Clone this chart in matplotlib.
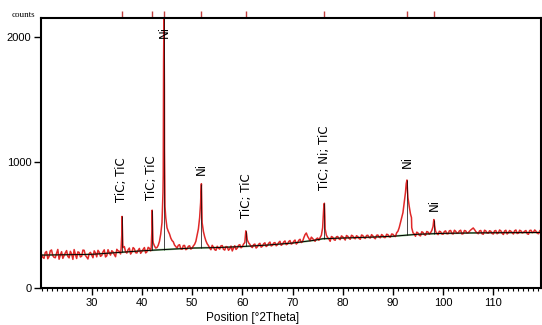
import numpy as np
import matplotlib.pyplot as plt
from matplotlib.ticker import MultipleLocator

# --- observed counts on a 0.5 deg grid (20.0 .. 119.5) ---
grid_start, grid_step = 20.0, 0.5
grid_counts = [
    268, 236, 291, 250, 303, 244, 277, 229, 289, 258, 298, 240, 271, 306, 235, 283, 253, 300, 246, 274,   # 20-29.5
    262, 296, 248, 285, 259, 304, 256, 281, 297, 266, 308, 292, 430, 330, 278, 318, 286, 312, 279, 315,   # 30-39.5
    290, 322, 288, 316, 470, 335, 322, 372, 520, 1100, 480, 430, 378, 342, 318, 345, 308, 339, 312, 336,  # 40-49.5
    318, 348, 420, 560, 520, 408, 352, 318, 340, 305, 332, 310, 338, 302, 328, 312, 295, 336, 318, 345,   # 50-59.5
    330, 362, 382, 348, 322, 350, 328, 356, 332, 360, 338, 366, 340, 362, 345, 372, 348, 375, 350, 378,   # 60-69.5
    355, 382, 360, 388, 370, 425, 412, 376, 395, 372, 398, 402, 480, 470, 402, 372, 405, 380, 410, 385,   # 70-79.5
    408, 382, 412, 388, 415, 392, 410, 388, 418, 395, 420, 398, 415, 392, 422, 400, 418, 402, 425, 405,   # 80-89.5
    428, 410, 452, 520, 600, 760, 720, 590, 440, 412, 438, 415, 442, 420, 445, 440, 490, 452, 425, 448,   # 90-99.5
    428, 455, 432, 458, 430, 452, 438, 460, 432, 455, 440, 462, 478, 450, 432, 458, 428, 455, 436, 452,   # 100-109.5
    430, 458, 438, 455, 426, 460, 440, 452, 430, 462, 436, 455, 442, 458, 428, 460, 445, 452, 432, 465,   # 110-119.5
]

# --- observed counts in between (20.25 .. 119.75) ---
mid_start = 20.25
mid_counts = [
    245, 282, 233, 296, 258, 241, 307, 262, 236, 280, 251, 292, 228, 268, 288, 247, 302, 259, 231, 284,   # 20.25-29.75
    241, 279, 300, 252, 288, 247, 305, 262, 287, 249, 296, 271, 322, 288, 305, 270, 322, 281, 300, 276,   # 30.25-39.75
    308, 279, 324, 296, 360, 318, 340, 430, 900, 560, 452, 398, 368, 330, 340, 312, 338, 305, 332, 310,   # 40.25-49.75
    335, 372, 470, 750, 450, 375, 338, 305, 326, 300, 318, 336, 308, 330, 300, 334, 318, 307, 340, 320,   # 50.25-59.75
    350, 450, 360, 330, 345, 318, 348, 325, 352, 330, 356, 335, 358, 336, 362, 340, 366, 345, 370, 350,   # 60.25-69.75
    372, 350, 380, 362, 400, 438, 395, 405, 382, 392, 380, 420, 660, 420, 390, 410, 385, 408, 392, 415,   # 70.25-79.75
    395, 418, 396, 420, 398, 416, 395, 422, 400, 418, 402, 425, 400, 420, 405, 426, 402, 428, 408, 430,   # 80.25-89.75
    415, 440, 480, 560, 680, 850, 650, 480, 430, 445, 420, 448, 425, 450, 428, 458, 530, 435, 452, 430,   # 90.25-99.75
    450, 432, 456, 434, 460, 436, 455, 430, 458, 438, 452, 470, 465, 440, 455, 432, 460, 438, 456, 434,   # 100.25-109.75
    455, 432, 462, 436, 454, 430, 458, 440, 456, 434, 460, 438, 452, 432, 458, 440, 462, 436, 455, 440,   # 110.25-119.75
]

# --- extra points across the sharp reflections ---
peak_tt = [35.85, 36.05, 36.2,
           41.85, 42.05, 42.2,
           44.2, 44.32, 44.4, 44.48, 44.6,
           51.7, 51.85, 51.95,
           60.7, 60.85,
           76.2, 76.35, 76.45,
           92.65, 92.8, 92.9, 93.7,
           98.15, 98.3]
peak_counts = [310, 570, 345,
               320, 620, 380,
               760, 1800, 2200, 1600, 650,
               680, 830, 610,
               455, 430,
               620, 675, 560,
               830, 860, 780, 560,
               545, 500]

# --- background line ---
bg_tt = [20, 30, 35, 40, 44, 50, 55, 60, 65, 70, 74, 76, 80, 85, 90, 95, 100, 105, 110, 119.5]
bg_counts = [262, 268, 282, 296, 305, 318, 322, 330, 342, 358, 378, 392, 398, 404, 412, 428, 435, 438, 440, 442]

# --- reference reflections and labels ---
ref_pos = [36.0, 42.0, 44.4, 51.85, 60.75, 76.35, 92.8, 98.2]
ref_top = [570, 620, 2200, 830, 455, 675, 860, 545]
ref_labels = ["TiC; TiC", "TiC; TiC", "Ni", "Ni", "TiC; TiC", "TiC; Ni; TiC", "Ni", "Ni"]
label_base = [687, 703, 1993, 902, 560, 783, 958, 615]

grid_tt = grid_start + grid_step * np.arange(len(grid_counts))
mid_tt = mid_start + grid_step * np.arange(len(mid_counts))
tt = np.concatenate([grid_tt, mid_tt, peak_tt])
counts = np.concatenate([grid_counts, mid_counts, peak_counts])
order = np.argsort(tt)
tt, counts = tt[order], counts[order]

fig = plt.figure(figsize=(5.42, 3.25), dpi=100)
ax = fig.add_axes([41 / 542, 1 - 288 / 325, 500 / 542, 270 / 325])

ax.plot(bg_tt, bg_counts, color='#3a9a3a', lw=1.4, alpha=0.6, zorder=1)
ax.plot(tt, counts, color='#e02828', lw=1.1, zorder=2)
ax.plot(bg_tt, bg_counts, color='black', lw=0.7, zorder=3)
bg_at_ref = np.interp(ref_pos, bg_tt, bg_counts)
ax.vlines(ref_pos, bg_at_ref, ref_top, color='black', lw=0.5, zorder=3)

for pos, yb, lab in zip(ref_pos, label_base, ref_labels):
    ax.text(pos, yb, lab, rotation=90, ha='center', va='bottom',
            fontsize=8.5, family='DejaVu Sans', color='black')

# red reflection markers above the top frame
ax.vlines(ref_pos, 1.0, 1.025, transform=ax.get_xaxis_transform(),
          color='#c04040', lw=1.0, clip_on=False)

ax.set_xlim(19.9, 119.5)
ax.set_ylim(0, 2150)
ax.set_xticks(range(30, 111, 10))
ax.xaxis.set_minor_locator(MultipleLocator(1))
ax.set_yticks([0, 1000, 2000])
ax.tick_params(axis='both', which='major', direction='out', length=5, width=1,
               labelsize=8, pad=2)
ax.tick_params(axis='x', which='minor', direction='out', length=2.5, width=0.8)
for lab in ax.get_xticklabels() + ax.get_yticklabels():
    lab.set_family('Liberation Sans')
for sp in ax.spines.values():
    sp.set_linewidth(1.5)

fig.text(12 / 542, 1 - 15 / 325, "counts", fontsize=6.5, family='Liberation Serif',
         va='center', ha='left')
fig.text(253 / 542, 1 - 318 / 325, "Position [°2Theta]", fontsize=8.5,
         family='Liberation Sans', ha='center', va='center')

fig.savefig("out.png", dpi=100)
